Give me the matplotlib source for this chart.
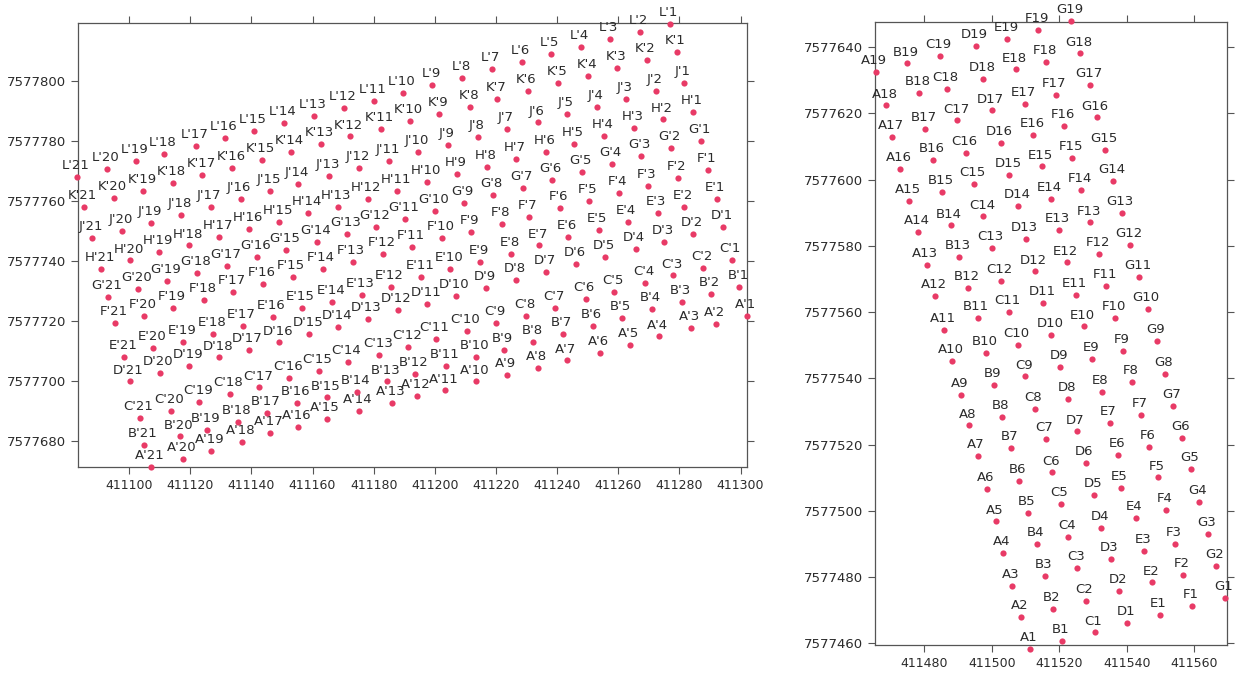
import matplotlib
matplotlib.use("Agg")
import matplotlib.pyplot as plt
from matplotlib.ticker import FormatStrFormatter

plt.rcParams['font.family'] = ['DejaVu Sans']

# left block: rows A' .. L' (no I), points 1 .. 21, easting / northing in m
ap_x = [411302.0, 411291.9, 411283.7, 411273.3, 411263.8, 411254.0, 411243.3, 411233.7, 411223.7, 411213.5, 411203.3,
        411194.3, 411185.9, 411175.2, 411164.6, 411155.2, 411146.1, 411137.0, 411126.8, 411117.6, 411107.1]
ap_y = [7577721.7, 7577719.0, 7577717.5, 7577714.8, 7577712.0, 7577709.4, 7577706.8, 7577704.2, 7577702.0, 7577699.8, 7577696.8,
        7577695.1, 7577692.6, 7577690.0, 7577687.2, 7577684.6, 7577682.6, 7577679.8, 7577676.8, 7577673.9, 7577671.3]
bp_x = [411299.6, 411290.3, 411280.7, 411270.9, 411261.1, 411251.8, 411241.8, 411232.2, 411222.6, 411213.5, 411203.7,
        411193.5, 411184.3, 411174.5, 411164.6, 411154.8, 411145.0, 411135.5, 411125.4, 411116.7, 411105.0]
bp_y = [7577731.4, 7577729.0, 7577726.3, 7577723.9, 7577721.1, 7577718.3, 7577715.7, 7577713.1, 7577710.3, 7577708.1, 7577705.1,
        7577702.3, 7577699.8, 7577696.4, 7577694.5, 7577692.6, 7577689.2, 7577686.4, 7577683.7, 7577681.5, 7577678.6]
cp_x = [411297.1, 411287.8, 411278.0, 411268.7, 411258.7, 411249.3, 411239.3, 411229.8, 411220.0, 411210.4, 411200.4,
        411191.3, 411181.8, 411171.5, 411162.1, 411152.4, 411142.6, 411133.0, 411123.0, 411113.6, 411103.6]
cp_y = [7577740.3, 7577737.5, 7577735.1, 7577732.5, 7577729.7, 7577727.3, 7577724.4, 7577721.6, 7577719.2, 7577716.6, 7577713.9,
        7577711.4, 7577708.7, 7577706.2, 7577703.4, 7577700.9, 7577697.8, 7577695.6, 7577692.9, 7577690.0, 7577687.6]
dp_x = [411294.3, 411284.5, 411274.9, 411265.7, 411255.7, 411246.1, 411236.3, 411226.5, 411216.7, 411206.9, 411197.5,
        411187.9, 411178.1, 411168.4, 411159.0, 411149.1, 411139.2, 411129.5, 411119.7, 411110.1, 411100.3]
dp_y = [7577751.4, 7577748.9, 7577746.4, 7577744.0, 7577741.2, 7577739.0, 7577736.2, 7577733.6, 7577731.1, 7577728.3, 7577725.6,
        7577723.6, 7577720.6, 7577717.9, 7577715.6, 7577712.8, 7577710.3, 7577707.8, 7577705.1, 7577702.6, 7577699.8]
ep_x = [411292.2, 411281.6, 411272.9, 411263.1, 411253.6, 411243.7, 411234.1, 411224.9, 411214.8, 411205.0, 411195.6,
        411185.6, 411176.1, 411166.5, 411156.5, 411147.0, 411137.2, 411127.6, 411117.8, 411107.9, 411098.5]
ep_y = [7577760.6, 7577758.0, 7577755.8, 7577753.0, 7577750.3, 7577747.9, 7577745.1, 7577742.3, 7577739.5, 7577737.2, 7577734.5,
        7577731.4, 7577728.6, 7577726.4, 7577724.2, 7577721.2, 7577718.4, 7577715.7, 7577713.1, 7577710.9, 7577708.1]
fp_x = [411289.4, 411279.6, 411269.8, 411260.2, 411250.5, 411240.9, 411230.9, 411221.9, 411211.8, 411202.3, 411192.6,
        411183.0, 411173.1, 411163.3, 411153.5, 411143.9, 411134.1, 411124.5, 411114.5, 411105.0, 411095.4]
fp_y = [7577770.3, 7577767.5, 7577765.0, 7577762.5, 7577759.9, 7577757.5, 7577754.7, 7577752.3, 7577749.7, 7577747.5, 7577744.7,
        7577742.2, 7577739.7, 7577737.2, 7577734.5, 7577732.3, 7577729.5, 7577727.0, 7577724.2, 7577721.7, 7577719.2]
gp_x = [411287.0, 411277.1, 411267.4, 411257.8, 411248.0, 411238.2, 411228.9, 411219.1, 411209.6, 411200.1, 411190.3,
        411180.7, 411171.2, 411161.4, 411151.3, 411141.8, 411131.9, 411122.1, 411112.3, 411102.8, 411093.2]
gp_y = [7577779.9, 7577777.5, 7577775.0, 7577772.3, 7577769.5, 7577766.9, 7577764.4, 7577761.9, 7577759.2, 7577756.6, 7577753.9,
        7577751.4, 7577749.0, 7577746.2, 7577743.6, 7577741.2, 7577738.4, 7577735.9, 7577733.3, 7577730.6, 7577728.1]
hp_x = [411284.5, 411274.7, 411265.1, 411255.4, 411245.5, 411236.3, 411226.5, 411217.0, 411207.2, 411197.5, 411187.7,
        411178.1, 411168.2, 411158.6, 411149.1, 411139.3, 411129.5, 411119.7, 411109.9, 411100.3, 411090.8]
hp_y = [7577789.5, 7577787.1, 7577784.3, 7577781.6, 7577778.9, 7577776.4, 7577773.8, 7577771.4, 7577768.8, 7577766.2, 7577763.3,
        7577760.6, 7577758.0, 7577755.8, 7577753.0, 7577750.5, 7577748.0, 7577745.1, 7577742.9, 7577740.1, 7577737.3]
jp_x = [411281.6, 411272.2, 411262.4, 411252.9, 411243.1, 411233.6, 411223.7, 411214.0, 411204.4, 411194.6, 411185.0,
        411175.2, 411165.4, 411155.4, 411146.1, 411136.5, 411126.7, 411117.0, 411107.2, 411097.6, 411088.0]
jp_y = [7577799.1, 7577796.7, 7577793.9, 7577791.3, 7577788.8, 7577786.1, 7577783.8, 7577781.2, 7577778.6, 7577776.2, 7577773.4,
        7577770.8, 7577768.4, 7577765.6, 7577763.3, 7577760.6, 7577757.8, 7577755.3, 7577752.7, 7577750.0, 7577747.7]
kp_x = [411279.1, 411269.3, 411259.7, 411250.2, 411240.4, 411230.4, 411220.4, 411211.5, 411201.5, 411191.8, 411182.4,
        411172.3, 411162.7, 411153.0, 411143.4, 411133.8, 411124.0, 411114.3, 411104.7, 411095.1, 411085.3]
kp_y = [7577809.5, 7577806.9, 7577804.3, 7577801.7, 7577799.1, 7577796.6, 7577793.9, 7577791.3, 7577788.9, 7577786.6, 7577783.9,
        7577781.4, 7577778.8, 7577776.4, 7577773.6, 7577771.0, 7577768.6, 7577766.0, 7577763.4, 7577760.8, 7577758.0]
lp_x = [411276.9, 411267.1, 411257.3, 411247.8, 411238.0, 411228.4, 411218.6, 411209.0, 411199.2, 411189.7, 411180.1,
        411170.4, 411160.6, 411150.7, 411141.0, 411131.4, 411121.8, 411111.5, 411102.2, 411092.7, 411082.9]
lp_y = [7577818.9, 7577816.3, 7577813.8, 7577811.1, 7577808.9, 7577806.3, 7577803.9, 7577801.0, 7577798.6, 7577795.8, 7577793.3,
        7577790.8, 7577788.3, 7577785.8, 7577783.2, 7577780.8, 7577778.4, 7577775.6, 7577773.3, 7577770.5, 7577768.0]

# right block: columns A .. G, points 1 .. 19
a_x = [411511.3, 411508.7, 411506.1, 411503.4, 411501.2, 411498.7, 411495.8, 411493.2, 411490.9, 411488.3,
       411485.9, 411483.2, 411480.7, 411478.2, 411475.5, 411472.8, 411470.5, 411468.7, 411465.6]
a_y = [7577458.3, 7577468.0, 7577477.4, 7577487.4, 7577496.8, 7577506.5, 7577516.6, 7577525.8, 7577535.0, 7577545.4,
       7577554.7, 7577564.8, 7577574.3, 7577584.2, 7577593.7, 7577603.3, 7577612.8, 7577622.4, 7577632.4]
b_x = [411520.9, 411518.2, 411515.8, 411513.3, 411510.8, 411508.1, 411505.6, 411503.1, 411500.7, 411498.2,
       411495.8, 411493.0, 411490.3, 411487.8, 411485.3, 411482.7, 411480.2, 411478.4, 411475.0]
b_y = [7577460.7, 7577470.3, 7577480.3, 7577489.9, 7577499.3, 7577509.1, 7577519.1, 7577528.3, 7577538.1, 7577547.8,
       7577558.2, 7577567.3, 7577576.7, 7577586.2, 7577596.2, 7577605.9, 7577615.4, 7577626.2, 7577635.1]
c_x = [411530.6, 411527.8, 411525.3, 411522.7, 411520.4, 411517.9, 411516.0, 411512.8, 411510.0, 411507.7,
       411505.1, 411502.6, 411500.0, 411497.5, 411494.8, 411492.4, 411489.8, 411486.8, 411484.7]
c_y = [7577463.3, 7577472.9, 7577482.7, 7577492.2, 7577502.0, 7577511.6, 7577521.7, 7577530.8, 7577540.6, 7577550.2,
       7577560.0, 7577569.5, 7577579.4, 7577588.9, 7577598.8, 7577608.1, 7577617.9, 7577627.5, 7577637.3]
d_x = [411540.1, 411537.7, 411535.2, 411532.4, 411530.3, 411527.8, 411525.2, 411522.7, 411520.2, 411517.7,
       411515.3, 411512.8, 411510.1, 411507.9, 411505.2, 411502.6, 411500.1, 411497.5, 411495.2]
d_y = [7577466.1, 7577475.8, 7577485.4, 7577494.9, 7577504.8, 7577514.4, 7577524.0, 7577533.8, 7577543.4, 7577553.2,
       7577562.8, 7577572.3, 7577582.2, 7577592.0, 7577601.3, 7577611.1, 7577620.9, 7577630.5, 7577640.3]
e_x = [411549.8, 411547.6, 411545.2, 411542.7, 411538.3, 411537.5, 411535.0, 411532.6, 411529.8, 411527.3,
       411524.9, 411522.2, 411519.9, 411517.5, 411514.8, 411512.3, 411509.8, 411507.2, 411504.6]
e_y = [7577468.6, 7577478.4, 7577488.0, 7577497.8, 7577506.9, 7577516.9, 7577526.5, 7577535.9, 7577545.9, 7577555.7,
       7577565.3, 7577575.0, 7577584.7, 7577594.2, 7577604.0, 7577613.6, 7577622.9, 7577633.3, 7577642.6]
f_x = [411559.4, 411556.7, 411554.3, 411551.6, 411549.2, 411546.7, 411544.2, 411541.7, 411539.0, 411536.5,
       411534.0, 411531.8, 411529.1, 411526.4, 411523.9, 411521.4, 411518.9, 411516.1, 411513.8]
f_y = [7577471.3, 7577480.7, 7577489.9, 7577500.3, 7577510.1, 7577519.4, 7577529.0, 7577538.9, 7577548.4, 7577558.2,
       7577568.0, 7577577.6, 7577587.1, 7577596.8, 7577606.6, 7577616.1, 7577625.5, 7577635.6, 7577645.1]
g_x = [411569.1, 411566.4, 411564.0, 411561.5, 411559.0, 411556.4, 411553.8, 411551.3, 411548.9, 411546.2,
       411543.6, 411540.9, 411538.5, 411536.0, 411533.5, 411531.1, 411529.1, 411526.1, 411523.5]
g_y = [7577473.8, 7577483.5, 7577493.0, 7577502.8, 7577512.7, 7577522.0, 7577531.7, 7577541.4, 7577551.2, 7577560.9,
       7577570.6, 7577580.2, 7577590.0, 7577599.7, 7577609.1, 7577618.8, 7577628.5, 7577638.1, 7577647.8]

left_rows = ["A", "B", "C", "D", "E", "F", "G", "H", "J", "K", "L"]
left_x = [ap_x, bp_x, cp_x, dp_x, ep_x, fp_x, gp_x, hp_x, jp_x, kp_x, lp_x]
left_y = [ap_y, bp_y, cp_y, dp_y, ep_y, fp_y, gp_y, hp_y, jp_y, kp_y, lp_y]

right_cols = ["A", "B", "C", "D", "E", "F", "G"]
right_x = [a_x, b_x, c_x, d_x, e_x, f_x, g_x]
right_y = [a_y, b_y, c_y, d_y, e_y, f_y, g_y]

DOT = "#e83a66"
TXT = "#2b2b2b"


def draw_points(ax, xs, ys, prefix):
    ax.scatter(xs, ys, s=20, color=DOT, linewidths=0, zorder=3, clip_on=False)
    for i in range(len(xs)):
        ax.annotate(prefix + str(i + 1), (xs[i], ys[i]), xytext=(-1, 3.5), textcoords="offset points",
                    ha="center", va="bottom", fontsize=9.5, color=TXT, annotation_clip=False)


def style_axes(ax, xlim, ylim, xticks, yticks):
    ax.set_xlim(xlim)
    ax.set_ylim(ylim)
    ax.set_xticks(xticks)
    ax.set_yticks(yticks)
    ax.xaxis.set_major_formatter(FormatStrFormatter("%d"))
    ax.yaxis.set_major_formatter(FormatStrFormatter("%d"))
    ax.tick_params(direction="out", length=5, width=0.8, color="#555555", top=True, right=True,
                   labelcolor=TXT)
    ax.tick_params(axis="x", labelsize=9)
    ax.tick_params(axis="y", labelsize=9.5)
    for sp in ax.spines.values():
        sp.set_color("#555555")
        sp.set_linewidth(0.9)


fig = plt.figure(figsize=(12.4, 6.75), dpi=100)
ax1 = fig.add_axes([0.0629, 0.3081, 0.5395, 0.6578])
ax2 = fig.add_axes([0.7056, 0.0444, 0.2839, 0.923])

for r in range(len(left_rows)):
    draw_points(ax1, left_x[r], left_y[r], left_rows[r] + "'")
style_axes(ax1, (411083.3, 411302.1), (7577671.3, 7577819.2),
           range(411100, 411301, 20), range(7577680, 7577801, 20))

for c in range(len(right_cols)):
    draw_points(ax2, right_x[c], right_y[c], right_cols[c])
style_axes(ax2, (411465.4, 411569.7), (7577459.5, 7577647.6),
           range(411480, 411561, 20), range(7577460, 7577641, 20))

fig.savefig("out.png", dpi=100, facecolor="white")
